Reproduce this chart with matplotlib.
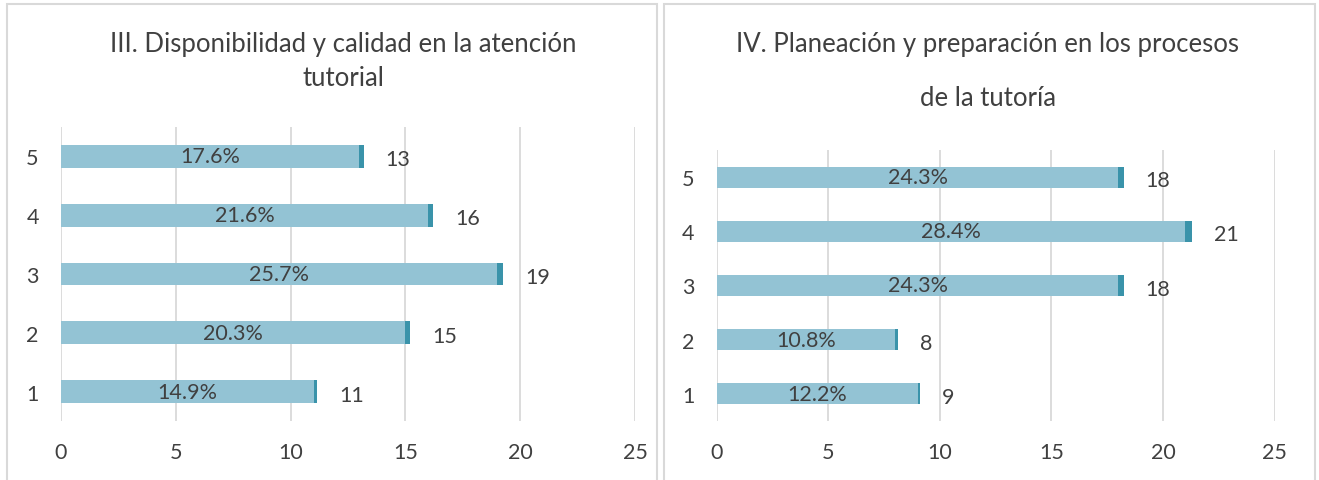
import matplotlib
matplotlib.use("Agg")
import matplotlib.pyplot as plt
from matplotlib.patches import Rectangle

# data
categories = ["1", "2", "3", "4", "5"]
counts_iii = [11, 15, 19, 16, 13]
pct_iii = [14.9, 20.3, 25.7, 21.6, 17.6]
counts_iv = [9, 8, 18, 21, 18]
pct_iv = [12.2, 10.8, 24.3, 28.4, 24.3]
titles = [
    ("III. Disponibilidad y calidad en la atención", "tutorial"),
    ("IV. Planeación y preparación en los procesos", "de la tutoría"),
]
xticks = [0, 5, 10, 15, 20, 25]

LIGHT = "#93C3D4"
DARK = "#3A93AA"
TEXT = "#404040"
GRID = "#D9D9D9"

plt.rcParams["font.family"] = ["Lato", "DejaVu Sans"]

W, H = 1319, 481
fig = plt.figure(figsize=(W / 100, H / 100), dpi=100)


def px_axes(x0, x1, ytop, ybot):
    return fig.add_axes([x0 / W, 1 - ybot / H, (x1 - x0) / W, (ybot - ytop) / H])


def draw_panel(ax, counts, pcts):
    y = list(range(len(categories)))
    fracs = [p / 100 for p in pcts]
    ax.barh(y, counts, height=0.39, color=LIGHT, zorder=2)
    ax.barh(y, fracs, left=counts, height=0.39, color=DARK, zorder=2)
    for yi, c, f, p in zip(y, counts, fracs, pcts):
        ax.text(c / 2, yi, f"{p:.1f}%", ha="center", va="center",
                fontsize=15.5, color=TEXT, zorder=3)
        ax.annotate(f"{c}", (c + f, yi), xytext=(22, -3), textcoords="offset pixels",
                    ha="left", va="center", fontsize=15.5, color=TEXT)
    ax.set_xlim(0, 25)
    ax.set_ylim(-0.5, 4.5)
    ax.set_xticks(xticks)
    ax.set_yticks(y)
    ax.set_yticklabels(categories)
    ax.xaxis.grid(True, color=GRID, linewidth=1.3, zorder=0)
    ax.set_axisbelow(True)
    for s in ax.spines.values():
        s.set_visible(False)
    ax.tick_params(length=0, labelsize=15.5, labelcolor=TEXT)
    ax.tick_params(axis="y", pad=16)
    ax.tick_params(axis="x", pad=15)


ax1 = px_axes(61, 635, 128, 422)
draw_panel(ax1, counts_iii, pct_iii)
ax2 = px_axes(716.7, 1274.5, 151, 422)
draw_panel(ax2, counts_iv, pct_iv)

# titles
fs_t = 18.5
fig.text(343 / W, 1 - 45 / H, titles[0][0], ha="center", va="center", fontsize=fs_t, color=TEXT)
fig.text(343 / W, 1 - 78 / H, titles[0][1], ha="center", va="center", fontsize=fs_t, color=TEXT)
fig.text(988 / W, 1 - 45 / H, titles[1][0], ha="center", va="center", fontsize=fs_t, color=TEXT)
fig.text(988 / W, 1 - 99 / H, titles[1][1], ha="center", va="center", fontsize=fs_t, color=TEXT)

# panel borders
for x0, x1 in [(7, 657), (664, 1315)]:
    fig.patches.append(Rectangle((x0 / W, -0.05), (x1 - x0) / W, 1.05 - 5 / H,
                                 transform=fig.transFigure, fill=False,
                                 edgecolor=GRID, linewidth=1.5))

fig.savefig("out.png", dpi=100)
